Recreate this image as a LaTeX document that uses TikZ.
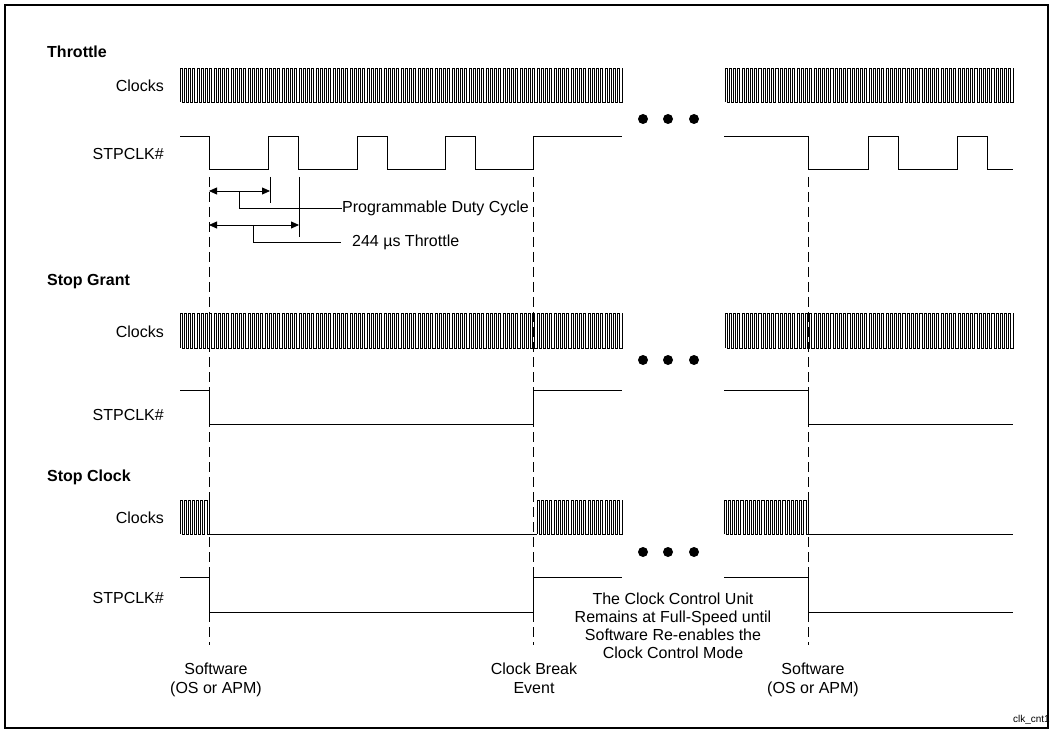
\documentclass[tikz,border=0pt]{standalone}
\usepackage{fontspec}
\setmainfont{Liberation Sans}
\usetikzlibrary{arrows.meta}

\tikzset{
	wave/.style={line width=0.8pt, line join=miter},
	guide/.style={line width=0.8pt, dash pattern=on 10pt off 5pt},
	dim/.style={line width=0.8pt, {Triangle[length=8pt,width=7pt]}-{Triangle[length=8pt,width=7pt]}},
	lead/.style={line width=0.8pt},
	sig/.style={anchor=east, inner sep=0pt},
	head/.style={anchor=west, inner sep=0pt, font=\fontsize{16}{18}\selectfont\bfseries},
	note/.style={anchor=west, inner sep=0pt},
	event/.style={anchor=north, align=center, inner sep=0pt, font=\fontsize{16}{18.5}\selectfont}
}

% clock train: x start, x end, cycles, y top, y bottom
\newcommand{\clocktrain}[5]{%
	\pgfmathsetmacro{\halfp}{(#2-#1)/(2*#3)}
	\pgfmathsetmacro{\hgt}{#5-#4}
	\draw[wave] (#1,#5) \foreach \k in {1,...,#3}{ -- ++(0,-\hgt) -- ++(\halfp,0) -- ++(0,\hgt) -- ++(\halfp,0)} -- ++(0,-\hgt);
}

\begin{document}
\begin{tikzpicture}[x=1pt, y=-1pt, font=\fontsize{16}{18}\selectfont]
	\useasboundingbox (0,0) rectangle (1053,730);
	\draw[line width=1.5pt] (5,5) rectangle (1048,728);

	% section titles
	\node[head] (thr) at (47,52) {Throttle};
	\node[head] (sg) at (47,282) {Stop Grant};
	\node[head] (sc) at (47,477) {Stop Clock};

	% signal names
	\node[sig] (clk1) at (164,86) {Clocks};
	\node[sig] (stp1) at (164,154) {STPCLK\#};
	\node[sig] (clk2) at (164,332) {Clocks};
	\node[sig] (stp2) at (164,415) {STPCLK\#};
	\node[sig] (clk3) at (164,518) {Clocks};
	\node[sig] (stp3) at (164,598) {STPCLK\#};

	% Throttle
	\clocktrain{180}{622}{104}{68}{102}
	\clocktrain{725}{1013}{68}{68}{102}
	\draw[wave] (180,136) -- (209,136) -- (209,169) -- (268,169) -- (268,136) -- (298,136) -- (298,169) -- (357,169) -- (357,136) -- (387,136) -- (387,169) -- (445,169) -- (445,136) -- (475,136) -- (475,169) -- (533,169) -- (533,136) -- (622,136);
	\draw[wave] (724,136) -- (808,136) -- (808,169) -- (868,169) -- (868,136) -- (898,136) -- (898,169) -- (957,169) -- (957,136) -- (987,136) -- (987,169) -- (1013,169);

	% Stop Grant
	\clocktrain{180}{622}{104}{313}{348}
	\clocktrain{725}{1013}{68}{313}{348}
	\draw[wave] (180,390) -- (209,390) -- (209,424) -- (533,424) -- (533,390) -- (622,390);
	\draw[wave] (724,390) -- (808,390) -- (808,424) -- (1013,424);

	% Stop Clock
	\clocktrain{180}{209}{7}{500}{534}
	\clocktrain{537}{622}{20}{500}{534}
	\clocktrain{724}{808}{20}{500}{534}
	\draw[wave] (209,534) -- (537,534);
	\draw[wave] (808,534) -- (1013,534);
	\draw[wave] (180,577) -- (209,577) -- (209,612) -- (533,612) -- (533,577) -- (622,577);
	\draw[wave] (724,577) -- (808,577) -- (808,612) -- (1013,612);

	% gaps
	\foreach \y in {119,360,552}
		\foreach \x in {643,668,694}
			\fill (\x,\y) circle[radius=5pt];

	% events
	\node[event] (sw1) at (216,663) {Software\\(OS or APM)};
	\node[event] (cbe) at (534,663) {Clock Break\\Event};
	\node[event] (sw2) at (813,663) {Software\\(OS or APM)};
	\coordinate (g1) at (209,177);
	\coordinate (g2) at (533,177);
	\coordinate (g3) at (808,177);
	\draw[guide] (g1) -- (g1 |- 0,645);
	\draw[guide] (g2) -- (g2 |- 0,645);
	\draw[guide] (g3) -- (g3 |- 0,645);

	\node[align=center, inner sep=0pt] (ccu) at (673,626) {The Clock Control Unit\\Remains at Full-Speed until\\Software Re-enables the\\Clock Control Mode};

	% duty cycle marks
	\coordinate (d0) at (209,191);
	\coordinate (d1) at (270,191);
	\coordinate (e0) at (209,225);
	\coordinate (e1) at (299,225);
	\draw[dim] (d0) -- (d1);
	\draw[dim] (e0) -- (e1);
	\draw[lead] (270,177) -- (270,203);
	\draw[lead] (299,177) -- (299,237);
	\node[note] (pdc) at (342,208) {Programmable Duty Cycle};
	\node[note] (t244) at (352,242) {244 µs Throttle};
	\draw[lead] (239,191) |- (pdc.west);
	\draw[lead] (253,225) |- ([xshift=-11pt]t244.west);

	\node[anchor=east, inner sep=0pt, font=\fontsize{10}{12}\selectfont] (tag) at (1050,720) {clk\_cnt1};
\end{tikzpicture}
\end{document}
